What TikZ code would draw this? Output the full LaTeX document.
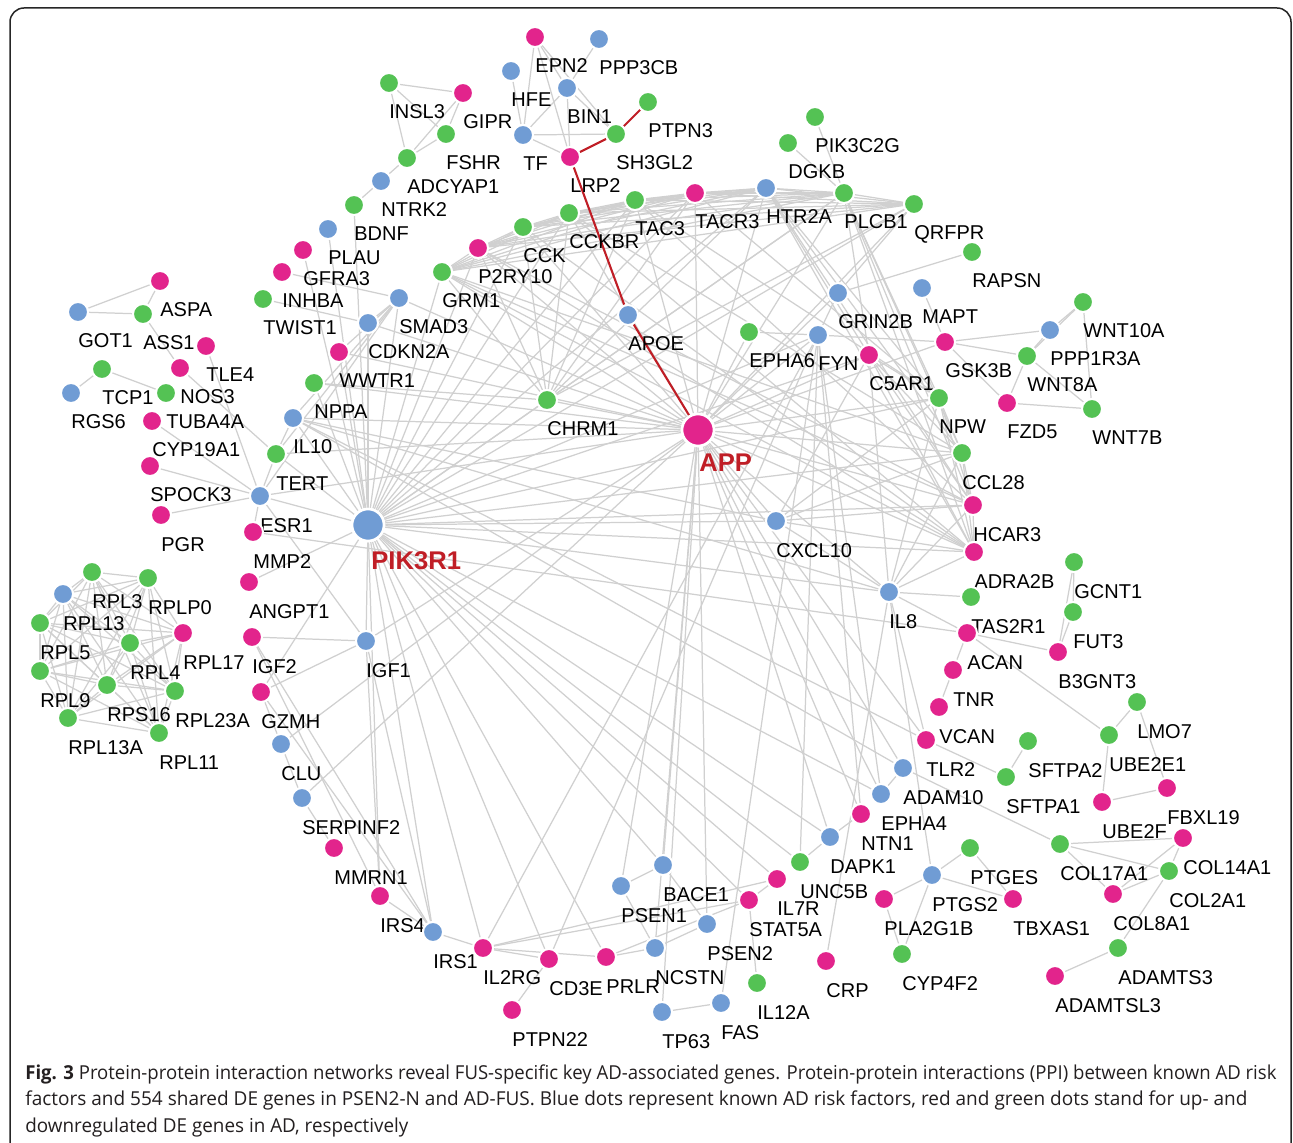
\documentclass[tikz,border=0pt]{standalone}
\usepackage{fontspec}
\usepackage{graphicx}
\setmainfont{Liberation Sans}
\newfontfamily\capfont{Open Sans}
\pgfdeclarelayer{edgelayer}
\pgfdeclarelayer{paper}
\pgfsetlayers{paper,edgelayer,main}
\definecolor{nblue}{RGB}{112,156,212}
\definecolor{nmag}{RGB}{226,36,140}
\definecolor{ngreen}{RGB}{84,194,84}
\definecolor{egray}{RGB}{208,208,208}
\definecolor{ered}{RGB}{192,30,38}
\definecolor{captext}{RGB}{35,31,32}
\newcommand{\netnode}[4]{\node[dot,fill=#4] (#1) at (#2,#3) {};\node[lbl] (#1L) at (#2,#3+36) {#1};}
\begin{document}
\begin{tikzpicture}[x=0.5pt,y=-0.5pt,
  dot/.style={circle,draw=white,line width=1pt,inner sep=0pt,minimum size=10pt},
  bigdot/.style={circle,draw=white,line width=1.3pt,inner sep=0pt,minimum size=16pt},
  lbl/.style={font=\fontsize{10}{12}\selectfont,inner sep=0pt,anchor=base west},
  biglbl/.style={font=\fontsize{12.8}{15}\selectfont\bfseries,text=ered,inner sep=0pt,anchor=base west},
  edge/.style={draw=egray,line width=0.62pt},
  redge/.style={draw=ered,line width=1.05pt},
  caption/.style={inner sep=0pt,anchor=base west,text=captext,font=\capfont\fontsize{9.6}{12}\selectfont}]
\useasboundingbox (0,0) rectangle (1293,1143);
\begin{pgfonlayer}{paper}
\fill[white] (0,0) rectangle (1293,1143);
\end{pgfonlayer}
\draw[line width=0.75pt,draw=black!85,rounded corners=7pt] (10,1170) -- (10,8) -- (1291,8) -- (1291,1170);

% ---------- nodes ----------
\netnode{INSL3}{389}{83}{ngreen}
\netnode{GIPR}{463}{93}{nmag}
\netnode{FSHR}{446}{134}{ngreen}
\netnode{ADCYAP1}{407}{158}{ngreen}
\netnode{NTRK2}{381}{181}{nblue}
\netnode{BDNF}{354}{205}{ngreen}
\netnode{PLAU}{328}{229}{nblue}
\netnode{GFRA3}{303}{250}{nmag}
\netnode{INHBA}{282}{272}{nmag}
\netnode{TWIST1}{263}{299}{ngreen}
\netnode{SMAD3}{399}{298}{nblue}
\netnode{CDKN2A}{368}{323}{nblue}
\netnode{WWTR1}{339}{352}{nmag}
\netnode{NPPA}{314}{383}{ngreen}
\netnode{IL10}{293}{418}{nblue}
\netnode{TERT}{276}{454}{ngreen}
\netnode{ESR1}{260}{496}{nblue}
\netnode{MMP2}{253}{532}{nmag}
\netnode{ANGPT1}{249}{582}{nmag}
\netnode{IGF2}{252}{637}{nmag}
\netnode{GZMH}{261}{692}{nmag}
\netnode{CLU}{281}{744}{nblue}
\netnode{SERPINF2}{302}{798}{nblue}
\netnode{MMRN1}{334}{848}{nmag}
\netnode{IRS4}{380}{896}{nmag}
\netnode{IRS1}{433}{932}{nblue}
\netnode{IGF1}{366}{641}{nblue}

\netnode{ASPA}{160}{281}{nmag}
\netnode{GOT1}{78}{312}{nblue}
\netnode{ASS1}{143}{314}{ngreen}
\netnode{TLE4}{206}{346}{nmag}
\netnode{TCP1}{102}{369}{ngreen}
\netnode{NOS3}{180}{368}{nmag}
\netnode{RGS6}{71}{393}{nblue}
\netnode{TUBA4A}{166}{393}{ngreen}
\netnode{CYP19A1}{152}{421}{nmag}
\netnode{SPOCK3}{150}{466}{nmag}
\netnode{PGR}{161}{515}{nmag}

\netnode{RPL3}{92}{572}{ngreen}
\netnode{RPLP0}{148}{578}{ngreen}
\netnode{RPL13}{63}{594}{nblue}
\netnode{RPL5}{40}{623}{ngreen}
\netnode{RPL17}{183}{633}{nmag}
\netnode{RPL4}{130}{643}{ngreen}
\netnode{RPL9}{40}{671}{ngreen}
\netnode{RPS16}{107}{685}{ngreen}
\netnode{RPL23A}{175}{691}{ngreen}
\netnode{RPL13A}{68}{718}{ngreen}
\netnode{RPL11}{159}{733}{ngreen}

\netnode{EPN2}{535}{37}{nmag}
\netnode{PPP3CB}{599}{39}{nblue}
\netnode{HFE}{511}{71}{nblue}
\netnode{BIN1}{567}{88}{nblue}
\netnode{PTPN3}{648}{102}{ngreen}
\netnode{TF}{523}{135}{nblue}
\netnode{SH3GL2}{616}{134}{ngreen}
\netnode{LRP2}{570}{157}{nmag}
\netnode{TAC3}{635}{200}{ngreen}
\netnode{TACR3}{695}{193}{nmag}
\netnode{HTR2A}{766}{188}{nblue}
\netnode{PLCB1}{844}{193}{ngreen}
\netnode{CCKBR}{569}{213}{ngreen}
\netnode{CCK}{523}{227}{ngreen}
\netnode{P2RY10}{478}{248}{nmag}
\netnode{GRM1}{442}{272}{ngreen}
\netnode{APOE}{628}{315}{nblue}
\netnode{EPHA6}{749}{332}{ngreen}
\netnode{FYN}{818}{335}{nblue}
\netnode{GRIN2B}{838}{293}{nblue}
\netnode{PIK3C2G}{815}{117}{ngreen}
\netnode{DGKB}{788}{143}{ngreen}
\netnode{QRFPR}{914}{204}{ngreen}
\netnode{RAPSN}{972}{252}{ngreen}
\netnode{MAPT}{922}{288}{nblue}
\netnode{GSK3B}{945}{342}{nmag}
\netnode{WNT10A}{1083}{302}{ngreen}
\netnode{PPP1R3A}{1050}{330}{nblue}
\netnode{WNT8A}{1027}{356}{ngreen}
\netnode{C5AR1}{869}{355}{nmag}
\netnode{NPW}{939}{398}{ngreen}
\netnode{FZD5}{1007}{403}{nmag}
\netnode{WNT7B}{1092}{409}{ngreen}
\netnode{CCL28}{962}{453}{ngreen}
\netnode{HCAR3}{973}{505}{nmag}
\netnode{ADRA2B}{974}{552}{nmag}
\netnode{GCNT1}{1074}{562}{ngreen}
\netnode{IL8}{889}{592}{nblue}
\netnode{TAS2R1}{971}{597}{ngreen}
\netnode{FUT3}{1073}{612}{ngreen}
\netnode{ACAN}{967}{633}{nmag}
\netnode{B3GNT3}{1058}{652}{nmag}
\netnode{TNR}{953}{670}{nmag}
\netnode{VCAN}{939}{707}{nmag}
\netnode{LMO7}{1137}{702}{ngreen}
\netnode{TLR2}{926}{740}{nmag}
\netnode{ADAM10}{903}{768}{nblue}
\netnode{EPHA4}{881}{794}{nblue}
\netnode{NTN1}{861}{814}{nmag}
\netnode{SFTPA2}{1028}{741}{ngreen}
\netnode{SFTPA1}{1006}{777}{ngreen}
\netnode{UBE2E1}{1109}{735}{ngreen}
\netnode{UBE2F}{1102}{802}{nmag}
\netnode{FBXL19}{1167}{788}{nmag}
\netnode{COL17A1}{1060}{844}{ngreen}
\netnode{COL14A1}{1183}{838}{nmag}
\netnode{COL2A1}{1169}{871}{ngreen}
\netnode{COL8A1}{1113}{894}{nmag}
\netnode{ADAMTS3}{1118}{948}{ngreen}
\netnode{ADAMTSL3}{1055}{976}{nmag}
\netnode{PTGES}{970}{848}{ngreen}
\netnode{PTGS2}{932}{875}{nblue}
\netnode{TBXAS1}{1013}{899}{nmag}
\netnode{PLA2G1B}{884}{899}{nmag}
\netnode{CYP4F2}{902}{954}{ngreen}
\netnode{DAPK1}{830}{837}{nblue}
\netnode{UNC5B}{800}{862}{ngreen}
\netnode{IL7R}{777}{879}{nmag}
\netnode{STAT5A}{749}{900}{nmag}
\netnode{BACE1}{663}{865}{nblue}
\netnode{PSEN1}{621}{886}{nblue}
\netnode{PSEN2}{707}{924}{nblue}
\netnode{NCSTN}{655}{948}{nblue}
\netnode{PRLR}{606}{957}{nmag}
\netnode{CD3E}{549}{959}{nmag}
\netnode{IL2RG}{483}{948}{nmag}
\netnode{PTPN22}{512}{1010}{nmag}
\netnode{TP63}{662}{1012}{nblue}
\netnode{FAS}{721}{1003}{nblue}
\netnode{IL12A}{757}{983}{ngreen}
\netnode{CRP}{826}{961}{nmag}
\netnode{CHRM1}{547}{400}{ngreen}
\netnode{CXCL10}{776}{521}{nblue}

\node[bigdot,fill=nblue] (PIK3R1) at (368,525) {};
\node[biglbl] (PIK3R1L) at (371,569) {PIK3R1};
\node[bigdot,fill=nmag] (APP) at (698,430) {};
\node[biglbl] (APPL) at (699,472) {APP};

% ---------- edges ----------
\begin{pgfonlayer}{edgelayer}
\foreach \a/\b in {INSL3/GIPR, INSL3/FSHR, INSL3/ADCYAP1, GIPR/FSHR, GIPR/ADCYAP1, FSHR/ADCYAP1,
ADCYAP1/NTRK2, NTRK2/BDNF, BDNF/PIK3R1, PLAU/PIK3R1, GFRA3/PIK3R1,
INHBA/SMAD3, TWIST1/CDKN2A, WWTR1/SMAD3, SMAD3/CDKN2A, CDKN2A/PIK3R1,
SMAD3/PIK3R1, WWTR1/PIK3R1, NPPA/PIK3R1, IL10/PIK3R1, ESR1/PIK3R1,
SMAD3/ESR1, SMAD3/IL10, SMAD3/TERT,
GOT1/ASPA, GOT1/ASS1, ASPA/ASS1, ASS1/NOS3, NOS3/TERT, TLE4/ESR1,
TCP1/RGS6, TCP1/TUBA4A, CYP19A1/ESR1, SPOCK3/ESR1, PGR/ESR1, TERT/ESR1,
TERT/IL10, TERT/PIK3R1,
IGF1/PIK3R1, IGF1/IGF2, IGF1/IRS1, IGF1/IRS4, IGF1/APP, IGF1/GZMH, IGF1/ESR1,
IGF2/IRS1, IGF2/IRS4, ANGPT1/PIK3R1, MMP2/ACAN, MMP2/ESR1, GZMH/CLU, GZMH/PIK3R1,
CLU/SERPINF2, CLU/APP, SERPINF2/MMRN1, SERPINF2/APP, IRS4/IRS1, IRS1/PIK3R1, IRS4/PIK3R1,
IRS1/IL2RG, IL2RG/PIK3R1, GZMH/IRS1,
EPN2/TF, EPN2/LRP2, EPN2/BIN1, PPP3CB/BIN1, HFE/TF, TF/BIN1, TF/SH3GL2, TF/LRP2,
BIN1/SH3GL2, BIN1/LRP2, EPN2/SH3GL2,
DGKB/PLCB1, PIK3C2G/PLCB1,
QRFPR/GRIN2B, GRIN2B/RAPSN, GRIN2B/FYN, EPHA6/FYN, FYN/GSK3B, MAPT/GSK3B,
GSK3B/PPP1R3A, GSK3B/WNT8A, GSK3B/FZD5, PPP1R3A/WNT10A, PPP1R3A/WNT8A,
WNT8A/WNT10A, FZD5/WNT8A, FZD5/WNT7B, WNT10A/WNT7B, WNT8A/WNT7B,
APP/EPHA6, APP/FYN, APP/GRIN2B, APP/GSK3B, APP/ADAM10, APP/EPHA4, APP/TLR2,
APP/NTN1, APP/DAPK1, APP/BACE1, APP/PSEN1, APP/PSEN2, APP/NCSTN, APP/TP63,
APP/ESR1, APP/TERT, APP/IL10, APP/SMAD3, APP/CDKN2A, APP/CHRM1, APP/WWTR1, APP/NPPA,
CHRM1/NPPA, CHRM1/PIK3R1,
FYN/FAS, FYN/UNC5B, FYN/NTN1, FYN/EPHA4, FYN/CD3E, FYN/IL2RG, FYN/PIK3R1,
IL10/CXCL10, IL10/IL8, IL10/TLR2, IL10/ADAM10,
PIK3R1/STAT5A, PIK3R1/IL7R, PIK3R1/UNC5B, PIK3R1/DAPK1, PIK3R1/EPHA4,
PIK3R1/BACE1, PIK3R1/PRLR, PIK3R1/CD3E,
BACE1/PSEN1, PSEN1/NCSTN, NCSTN/PSEN2, BACE1/PSEN2, PRLR/NCSTN, PRLR/IL2RG,
CD3E/IL2RG, PTPN22/CD3E, PRLR/STAT5A, IL2RG/STAT5A, IL2RG/IL7R, STAT5A/IL7R,
STAT5A/IL12A, TP63/FAS, UNC5B/DAPK1, DAPK1/NTN1, IL8/CRP,
ADAM10/EPHA4, ADAM10/COL17A1, TLR2/SFTPA1, SFTPA1/SFTPA2, TLR2/IL8,
VCAN/TNR, TNR/ACAN, ACAN/B3GNT3, ACAN/UBE2E1, TAS2R1/IL8, IL8/ACAN,
GCNT1/FUT3, GCNT1/B3GNT3, FUT3/B3GNT3, LMO7/UBE2E1, LMO7/FBXL19,
UBE2E1/UBE2F, UBE2F/FBXL19,
COL17A1/COL14A1, COL17A1/COL2A1, COL17A1/COL8A1, COL14A1/COL8A1, COL2A1/COL8A1,
COL14A1/COL2A1, COL2A1/ADAMTS3, ADAMTS3/ADAMTSL3,
PTGS2/PTGES, PTGS2/TBXAS1, PTGES/TBXAS1, PTGS2/PLA2G1B, PTGS2/CYP4F2,
PLA2G1B/CYP4F2, PTGS2/IL8,
IL8/CXCL10, IL8/PIK3R1, CXCL10/PIK3R1, CXCL10/APP, IL8/APP,
GRM1/ADRA2B, GRM1/HCAR3, GRM1/CCL28, P2RY10/HCAR3, P2RY10/ADRA2B, CCK/ADRA2B,
CCKBR/CCL28, TACR3/NPW, TAC3/NPW, TAC3/HCAR3, CCKBR/ADRA2B}{\draw[edge] (\a) -- (\b);}

% GPCR band clique and hub links
\foreach \a [count=\i] in {GRM1,P2RY10,CCK,CCKBR,TAC3,TACR3,HTR2A,PLCB1,QRFPR}{
  \foreach \b [count=\j] in {GRM1,P2RY10,CCK,CCKBR,TAC3,TACR3,HTR2A,PLCB1,QRFPR}{
    \ifnum\j>\i \draw[edge] (\a) -- (\b); \fi}
  \draw[edge] (\a) -- (CHRM1);
  \draw[edge] (\a) -- (APP);
  \draw[edge] (\a) -- (PIK3R1);
}
% right column clique and hub links
\foreach \a [count=\i] in {C5AR1,NPW,CCL28,HCAR3,ADRA2B}{
  \foreach \b [count=\j] in {C5AR1,NPW,CCL28,HCAR3,ADRA2B}{
    \ifnum\j>\i \draw[edge] (\a) -- (\b); \fi}
  \draw[edge] (\a) -- (APP);
  \draw[edge] (\a) -- (IL8);
  \draw[edge] (\a) -- (CXCL10);
  \draw[edge] (\a) -- (PIK3R1);
  \draw[edge] (\a) -- (PLCB1);
  \draw[edge] (\a) -- (HTR2A);
}
% ribosomal cluster
\foreach \a [count=\i] in {RPL3,RPLP0,RPL13,RPL5,RPL17,RPL4,RPL9,RPS16,RPL23A,RPL13A,RPL11}{
  \foreach \b [count=\j] in {RPL3,RPLP0,RPL13,RPL5,RPL17,RPL4,RPL9,RPS16,RPL23A,RPL13A,RPL11}{
    \ifnum\j>\i \draw[edge] (\a) -- (\b); \fi}}

% highlighted path
\draw[redge] (LRP2) -- (SH3GL2);
\draw[redge] (SH3GL2) -- (PTPN3);
\draw[redge] (LRP2) -- (APOE);
\draw[redge] (APOE) -- (APP);
\end{pgfonlayer}

% ---------- caption ----------
\node[caption] (cap1) at (25,1079) {\resizebox{625.5pt}{\height}{\textbf{Fig. 3} Protein-protein interaction networks reveal FUS-specific key AD-associated genes. Protein-protein interactions (PPI) between known AD risk}};
\node[caption] (cap2) at (25,1105.5) {\resizebox{611pt}{\height}{factors and 554 shared DE genes in PSEN2-N and AD-FUS. Blue dots represent known AD risk factors, red and green dots stand for up- and}};
\node[caption] (cap3) at (25,1132) {\resizebox{191.5pt}{\height}{downregulated DE genes in AD, respectively}};
\end{tikzpicture}
\end{document}
